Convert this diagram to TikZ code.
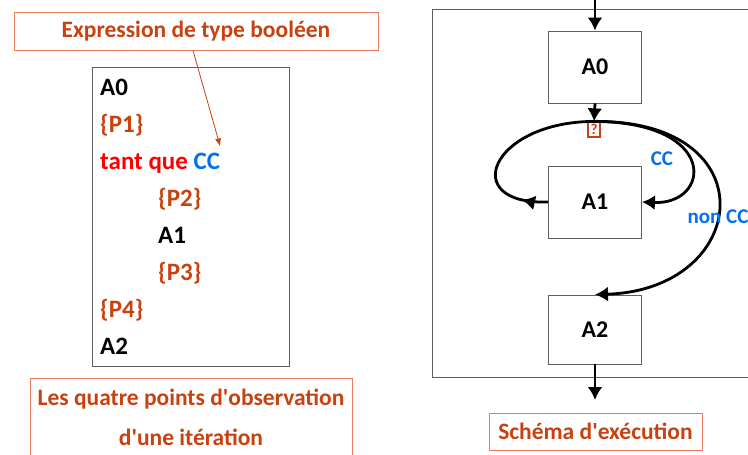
\documentclass[tikz,border=0pt]{standalone}
\usepackage{fontspec}
\setmainfont{Carlito}
\usetikzlibrary{positioning, arrows.meta, decorations.markings}

\definecolor{rouille}{RGB}{200,65,15}
\definecolor{saumon}{RGB}{232,125,95}
\definecolor{bleu}{RGB}{0,112,240}
\definecolor{gris}{RGB}{95,95,95}

\begin{document}
\begin{tikzpicture}[
  x=1pt, y=-1pt,
  every node/.style={font=\bfseries\fontsize{23.5}{26}\selectfont, inner sep=0pt},
  cadre/.style={draw=saumon, line width=1pt, text=rouille},
  bloc/.style={draw=gris, line width=0.9pt, minimum width=93pt, font=\bfseries\fontsize{24}{26}\selectfont},
  ligne/.style={anchor=base west, font=\bfseries\fontsize{25}{28}\selectfont},
  obs/.style={text=rouille},
  flux/.style={line width=2.8pt, -{Latex[length=13pt,width=15pt]}},
  retour/.style={line width=2.8pt, postaction={decorate},
    decoration={markings, mark=at position 0.14 with {\arrow{Latex[length=13pt,width=15pt]}}}},
  cond/.style={text=bleu, font=\bfseries\fontsize{21}{22}\selectfont}
]
\useasboundingbox (0,0) rectangle (748,455);

% partie gauche : le code
\node[cadre, minimum width=364pt, minimum height=38pt] (expr) at (196,31) {Expression de type booléen};

\draw[gris, line width=0.9pt] (92,67) rectangle (289,366);
\node[ligne] (a0) at (100,95) {A0};
\node[ligne, obs] (p1) at (100,132) {\{P1\}};
\node[ligne] (tq) at (100,169) {\textcolor{red}{tant que} \textcolor{bleu}{CC}};
\node[ligne, obs] (p2) at (158,206) {\{P2\}};
\node[ligne] (a1) at (158,243) {A1};
\node[ligne, obs] (p3) at (158,280) {\{P3\}};
\node[ligne, obs] (p4) at (100,317) {\{P4\}};
\node[ligne] (a2) at (100,354) {A2};

\draw[rouille, line width=0.8pt, -{Latex[length=8pt,width=6pt]}]
  ([xshift=-3pt]expr.south) -- ([yshift=6pt]tq.north east);

\node[cadre, anchor=north, minimum width=322pt, inner ysep=10pt, align=center,
  font=\bfseries\fontsize{23.5}{40}\selectfont] (points) at (191,378)
  {Les quatre points d\textquotesingle observation\\d\textquotesingle une itération};

% partie droite : le schema
\draw[gris, line width=0.9pt] (432,9) rectangle (760,377);

\node[bloc, minimum height=72pt] (A0) at (595,67) {A0};
\node[bloc, minimum height=72pt] (A1) at (595,202) {A1};
\node[bloc, minimum height=69pt] (A2) at (595,329.5) {A2};
\node[draw=rouille, line width=1.2pt, text=rouille, minimum width=12pt, minimum height=15pt,
  font=\bfseries\fontsize{15}{16}\selectfont] (q) at (594,129.5) {?};

\coordinate (entree) at (595,-2);
\coordinate (sortie) at (595,400);
\draw[flux] (entree) -- (A0.north);
\draw[flux] (A0.south) -- (q.north);

\draw[retour] (A1.west) .. controls (458,205) and (490,122) .. (q.north);
\draw[flux] (q.north) .. controls (720,122) and (711,205) .. (A1.east);
\draw[flux] (q.north) .. controls (770,120) and (750,290) .. (A2.north);
\draw[flux] (A2.south) -- (sortie);

\node[cond] (cc) at (662,159) {CC};
\node[cond] (noncc) at (718,217) {non CC};

\node[cadre, minimum width=213pt, minimum height=37pt] (schema) at (595.5,431.5) {Schéma d\textquotesingle exécution};
\end{tikzpicture}
\end{document}
